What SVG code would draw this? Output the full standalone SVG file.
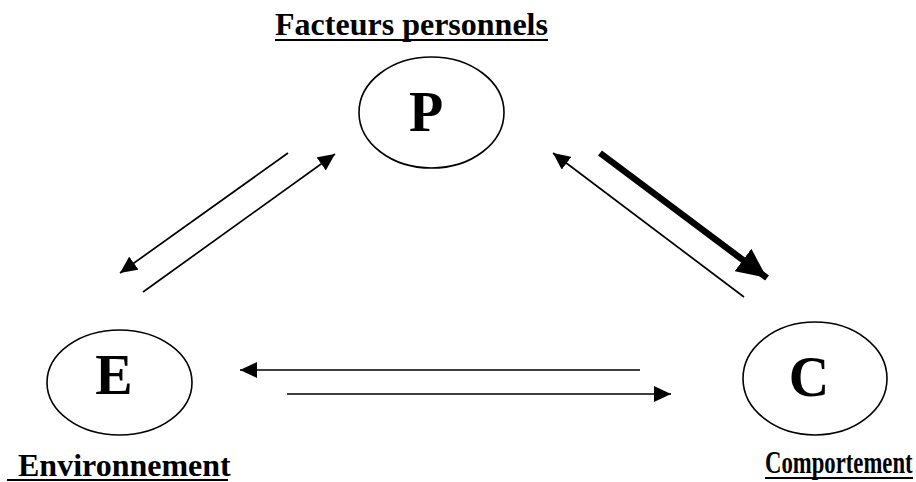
<svg xmlns="http://www.w3.org/2000/svg" width="916" height="482" viewBox="0 0 916 482">
<style>
.node{fill:#fff;stroke:#000;stroke-width:1.6}
.lbl{font-family:"Liberation Serif","Times New Roman",serif;font-weight:bold;fill:#000}
.big{font-size:56px;text-anchor:middle}
.cap{font-size:32px}
.ul{stroke:#000;stroke-width:2}
.c{stroke:#000;stroke-width:1.7;fill:none;marker-end:url(#ah)}
.thick{stroke:#000;stroke-width:6.5;fill:none;marker-end:url(#ahb)}
</style>
<defs>
<marker id="ah" markerUnits="userSpaceOnUse" markerWidth="18" markerHeight="16" refX="17" refY="8" orient="auto" viewBox="0 0 18 16">
<path d="M0,0 L17,8 L0,16 z" fill="#000"/>
</marker>
<marker id="ahb" markerUnits="userSpaceOnUse" markerWidth="31" markerHeight="28" refX="30" refY="14" orient="auto" viewBox="0 0 31 28">
<path d="M0,0 L30,14 L0,28 z" fill="#000"/>
</marker>
</defs>
<rect width="916" height="482" fill="#fff"/>
<g id="connectors">
<line class="c" x1="288" y1="153" x2="120" y2="273"/>
<line class="c" x1="143" y1="292" x2="335" y2="154"/>
<line class="c" x1="744" y1="297" x2="553" y2="153"/>
<line class="thick" x1="600" y1="153" x2="767" y2="278"/>
<line class="c" x1="640" y1="370" x2="240" y2="370"/>
<line class="c" x1="287" y1="394" x2="671" y2="394"/>
</g>
<g id="node-P">
<text class="lbl cap" x="411.5" y="35" text-anchor="middle">Facteurs personnels</text>
<line class="ul" x1="275" y1="40" x2="548" y2="40"/>
<ellipse class="node" cx="431.5" cy="112.5" rx="72.5" ry="55.5"/>
<text class="lbl big" x="426" y="131">P</text>
</g>
<g id="node-E">
<ellipse class="node" cx="119.5" cy="382.5" rx="72.5" ry="52.5"/>
<text class="lbl big" x="114" y="394">E</text>
<text class="lbl cap" x="18" y="476">Environnement</text>
<line class="ul" x1="7" y1="480" x2="228" y2="480"/>
</g>
<g id="node-C">
<ellipse class="node" cx="815" cy="378.5" rx="72" ry="56.5"/>
<text class="lbl big" x="809" y="396">C</text>
<text class="lbl cap" transform="translate(765,473) scale(0.71,1)" x="0" y="0">Comportement</text>
<line class="ul" x1="765" y1="478" x2="913" y2="478"/>
</g>
</svg>
